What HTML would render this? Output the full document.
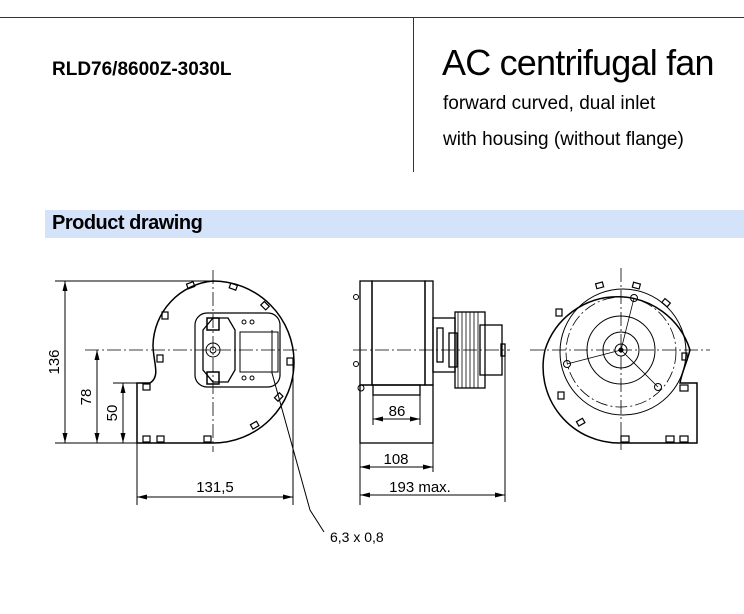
<!DOCTYPE html>
<html><head><meta charset="utf-8"><style>
body{margin:0;width:744px;height:614px;background:#fff;overflow:hidden;font-family:"Liberation Sans",sans-serif;position:relative}
.t{position:absolute;white-space:nowrap;color:#000}
</style></head><body>
<div style="position:absolute;left:0;top:17px;width:744px;height:1px;background:#333"></div>
<div style="position:absolute;left:413px;top:17px;width:1px;height:155px;background:#333"></div>
<div class="t" style="left:52px;top:59px;font-size:19px;font-weight:bold">RLD76/8600Z-3030L</div>
<div class="t" style="left:442px;top:42px;font-size:36px;letter-spacing:-0.8px">AC centrifugal fan</div>
<div class="t" style="left:443px;top:93px;font-size:19px">forward curved, dual inlet</div>
<div class="t" style="left:443px;top:129px;font-size:19px">with housing (without flange)</div>
<div style="position:absolute;left:45px;top:210px;width:699px;height:28px;background:#d5e3fa"></div>
<div class="t" style="left:52px;top:212px;font-size:20px;font-weight:bold;letter-spacing:-0.5px">Product drawing</div>
<svg width="744" height="614" style="position:absolute;left:0;top:0" font-family="Liberation Sans, sans-serif" font-size="15">
<defs><marker id="a" markerWidth="10" markerHeight="6" refX="10" refY="3" orient="auto-start-reverse"><path d="M0,0.5 L10,3 L0,5.5 Z" fill="#000"/></marker></defs>
<g stroke="#000" fill="none" stroke-width="1">
<!-- LEFT VIEW -->
<path stroke-width="1.5" d="M137,443 L213,443 A81,81 0 0 0 294,362 A81,81 0 0 0 213,281 A66,66 0 0 0 153,345 C153,362 161,376 150,383 L137,383 Z"/>
<g stroke-width="1.2">
<rect x="187" y="283" width="7" height="5" transform="rotate(-20 190 285)"/>
<rect x="230" y="284" width="7" height="5" transform="rotate(20 233 286)"/>
<rect x="262" y="303" width="7" height="5" transform="rotate(45 265 305)"/>
<rect x="162" y="312" width="6" height="7"/>
<rect x="157" y="355" width="6" height="7"/>
<rect x="287" y="358" width="6" height="7"/>
<rect x="275" y="395" width="7" height="5" transform="rotate(-45 278 397)"/>
<rect x="251" y="423" width="7" height="5" transform="rotate(-30 254 425)"/>
<rect x="143" y="384" width="7" height="6"/><rect x="143" y="436" width="7" height="6"/>
<rect x="157" y="436" width="7" height="6"/><rect x="204" y="436" width="7" height="6"/>
</g>
<rect x="195" y="313" width="85" height="74" rx="12" stroke-width="1.2"/>
<path d="M203,330 L213,318 L228,318 L235,330 L235,370 L228,382 L213,382 L203,370 Z" stroke-width="1.3"/>
<circle cx="213" cy="350" r="7"/><circle cx="213" cy="350" r="3"/>
<rect x="207" y="318" width="12" height="12" stroke-width="1.5"/><rect x="207" y="372" width="12" height="12" stroke-width="1.5"/>
<rect x="240" y="332" width="38" height="40"/><line x1="272" y1="330" x2="272" y2="374"/>
<circle cx="244" cy="322" r="2"/><circle cx="252" cy="322" r="2"/><circle cx="244" cy="378" r="2"/><circle cx="252" cy="378" r="2"/>
<g stroke-dasharray="14,3,2,3" stroke-width="0.8">
<line x1="213" y1="270" x2="213" y2="452"/><line x1="85" y1="350" x2="300" y2="350"/>
</g>
<!-- dims left -->
<line x1="55" y1="281" x2="213" y2="281"/><line x1="55" y1="443" x2="137" y2="443"/>
<line x1="113" y1="383" x2="137" y2="383"/>
<line x1="65" y1="281" x2="65" y2="443" marker-start="url(#a)" marker-end="url(#a)"/>
<line x1="97" y1="350" x2="97" y2="443" marker-start="url(#a)" marker-end="url(#a)"/>
<line x1="123" y1="383" x2="123" y2="443" marker-start="url(#a)" marker-end="url(#a)"/>
<line x1="137" y1="443" x2="137" y2="505"/><line x1="293" y1="362" x2="293" y2="505"/>
<line x1="137" y1="497" x2="293" y2="497" marker-start="url(#a)" marker-end="url(#a)"/>
<path d="M272,373 L310,510 L324,532"/>
<!-- MIDDLE VIEW -->
<g stroke-width="1.3">
<rect x="360" y="281" width="12" height="104"/><rect x="372" y="281" width="53" height="104"/><rect x="425" y="281" width="8" height="104"/>
<rect x="360" y="385" width="73" height="58"/><rect x="373" y="385" width="47" height="10"/>
<rect x="433" y="318" width="22" height="54"/><rect x="437" y="328" width="6" height="34"/>
<rect x="455" y="312" width="30" height="76"/>
<rect x="449" y="333" width="8" height="34"/>
<rect x="480" y="325" width="22" height="50"/>
<rect x="501" y="344" width="4" height="12"/>
</g>
<g stroke-width="0.8"><line x1="458" y1="312" x2="458" y2="388"/><line x1="462" y1="312" x2="462" y2="388"/><line x1="466" y1="312" x2="466" y2="388"/><line x1="470" y1="312" x2="470" y2="388"/><line x1="474" y1="312" x2="474" y2="388"/><line x1="478" y1="312" x2="478" y2="388"/></g>
<circle cx="356" cy="297" r="2.5"/><circle cx="356" cy="364" r="2.5"/><circle cx="361" cy="388" r="3"/>
<line x1="353" y1="350" x2="510" y2="350" stroke-dasharray="14,3,2,3" stroke-width="0.8"/>
<line x1="373" y1="395" x2="373" y2="425"/><line x1="420" y1="395" x2="420" y2="425"/>
<line x1="373" y1="419" x2="420" y2="419" marker-start="url(#a)" marker-end="url(#a)"/>
<line x1="360" y1="443" x2="360" y2="505"/><line x1="433" y1="443" x2="433" y2="472"/>
<line x1="360" y1="467" x2="433" y2="467" marker-start="url(#a)" marker-end="url(#a)"/>
<line x1="505" y1="356" x2="505" y2="502"/>
<line x1="360" y1="495" x2="505" y2="495" marker-start="url(#a)" marker-end="url(#a)"/>
<!-- RIGHT VIEW -->
<path stroke-width="1.5" d="M621,443 L697,443 L697,383 L680,383 C682,372 686,365 690,350 A76,76 0 0 0 545,350 A76,76 0 0 0 621,443"/>
<g stroke-width="1.2">
<rect x="556" y="309" width="6" height="7"/><rect x="558" y="392" width="6" height="7"/>
<rect x="577" y="420" width="7" height="5" transform="rotate(-30 580 422)"/>
<rect x="596" y="283" width="7" height="5" transform="rotate(-15 599 285)"/>
<rect x="633" y="283" width="7" height="5" transform="rotate(15 636 285)"/>
<rect x="663" y="300" width="7" height="5" transform="rotate(40 666 302)"/>
<rect x="682" y="353" width="5" height="7"/>
<rect x="680" y="385" width="8" height="6"/><rect x="621" y="436" width="8" height="6"/>
<rect x="666" y="436" width="8" height="6"/><rect x="680" y="436" width="8" height="6"/>
</g>
<circle cx="623" cy="352" r="63"/>
<circle cx="621" cy="352" r="55" stroke-dasharray="12,3,2,3" stroke-width="0.8"/>
<circle cx="621" cy="350" r="34"/><circle cx="621" cy="350" r="18"/><circle cx="621" cy="350" r="6"/><circle cx="621" cy="350" r="2" fill="#000"/>
<circle cx="634" cy="298" r="3.5"/><circle cx="567" cy="364" r="3.5"/><circle cx="658" cy="387" r="3.5"/>
<line x1="621" y1="350" x2="634" y2="298" stroke-width="0.8"/><line x1="621" y1="350" x2="567" y2="364" stroke-width="0.8"/><line x1="621" y1="350" x2="658" y2="387" stroke-width="0.8"/>
<g stroke-dasharray="14,3,2,3" stroke-width="0.8"><line x1="621" y1="268" x2="621" y2="450"/><line x1="530" y1="350" x2="710" y2="350"/></g>
</g>
<g fill="#000">
<text transform="translate(59,362) rotate(-90)" text-anchor="middle">136</text>
<text transform="translate(91,397) rotate(-90)" text-anchor="middle">78</text>
<text transform="translate(117,413) rotate(-90)" text-anchor="middle">50</text>
<text x="215" y="492" text-anchor="middle">131,5</text>
<text x="397" y="416" text-anchor="middle">86</text>
<text x="396" y="464" text-anchor="middle">108</text>
<text x="420" y="492" text-anchor="middle">193 max.</text>
<text x="330" y="542" font-size="14">6,3 x 0,8</text>
</g>
</svg>
</body></html>
